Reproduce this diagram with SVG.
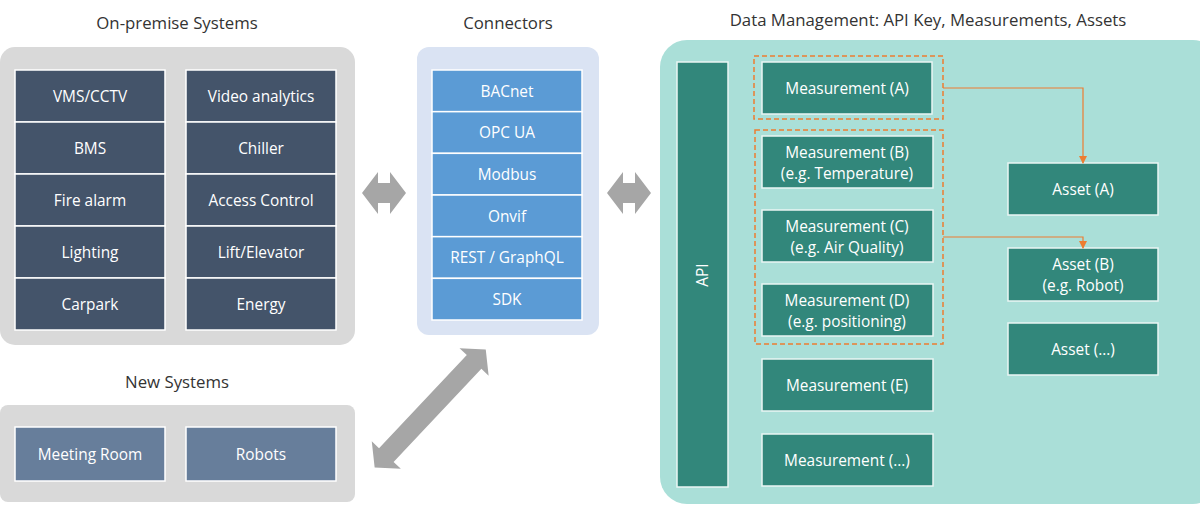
<svg xmlns="http://www.w3.org/2000/svg" width="1200" height="505" viewBox="0 0 1200 505">
<defs>
<style>
.title{font-family:"Open Sans","Liberation Sans",sans-serif;font-size:16.8px;fill:#333333;text-anchor:middle}
.t{font-family:"Open Sans","Liberation Sans",sans-serif;font-size:15.4px;fill:#ffffff;text-anchor:middle}
.dark{fill:#44546A;stroke:#ffffff;stroke-width:1.5}
.newc{fill:#677E9B;stroke:#ffffff;stroke-width:1.5}
.conn{fill:#5B9BD5;stroke:#ffffff;stroke-width:1.5}
.teal{fill:#32877B;stroke:#EAF6F4;stroke-width:1.5}
.dash{fill:none;stroke:#ED7D31;stroke-width:1.5;stroke-dasharray:5 3}
.olink{fill:none;stroke:#ED7D31;stroke-width:1.2}
.bi{fill:#A6A6A6}
</style>
<marker id="ah" markerWidth="8" markerHeight="8" refX="7" refY="4" orient="auto" markerUnits="userSpaceOnUse">
<path d="M0,0 L8,4 L0,8 Z" fill="#ED7D31"/>
</marker>
</defs>
<rect width="1200" height="505" fill="#ffffff"/>

<g id="onpremise">
<text class="title" x="177" y="29">On-premise Systems</text>
<rect x="0" y="47" width="355" height="298" rx="15" fill="#D9D9D9"/>
<g id="vms"><rect class="dark" x="15" y="70" width="150" height="52"/><text class="t" x="90" y="101.5">VMS/CCTV</text></g>
<g id="bms"><rect class="dark" x="15" y="122" width="150" height="52"/><text class="t" x="90" y="153.5">BMS</text></g>
<g id="fire"><rect class="dark" x="15" y="174" width="150" height="52"/><text class="t" x="90" y="205.5">Fire alarm</text></g>
<g id="lighting"><rect class="dark" x="15" y="226" width="150" height="52"/><text class="t" x="90" y="257.5">Lighting</text></g>
<g id="carpark"><rect class="dark" x="15" y="278" width="150" height="52"/><text class="t" x="90" y="309.5">Carpark</text></g>
<g id="video"><rect class="dark" x="186" y="70" width="150" height="52"/><text class="t" x="261" y="101.5">Video analytics</text></g>
<g id="chiller"><rect class="dark" x="186" y="122" width="150" height="52"/><text class="t" x="261" y="153.5">Chiller</text></g>
<g id="access"><rect class="dark" x="186" y="174" width="150" height="52"/><text class="t" x="261" y="205.5">Access Control</text></g>
<g id="lift"><rect class="dark" x="186" y="226" width="150" height="52"/><text class="t" x="261" y="257.5">Lift/Elevator</text></g>
<g id="energy"><rect class="dark" x="186" y="278" width="150" height="52"/><text class="t" x="261" y="309.5">Energy</text></g>
</g>

<g id="newsystems">
<text class="title" x="177" y="388">New Systems</text>
<rect x="0" y="405" width="355" height="97" rx="8" fill="#D9D9D9"/>
<g id="meeting"><rect class="newc" x="15" y="427" width="150" height="54"/><text class="t" x="90" y="459.5">Meeting Room</text></g>
<g id="robots"><rect class="newc" x="186" y="427" width="150" height="54"/><text class="t" x="261" y="459.5">Robots</text></g>
</g>

<g id="connectors">
<text class="title" x="508" y="29">Connectors</text>
<rect x="417" y="47" width="182" height="288" rx="12" fill="#DAE3F3"/>
<g id="bacnet"><rect class="conn" x="432" y="70" width="150" height="41.67"/><text class="t" x="507" y="96.5">BACnet</text></g>
<g id="opcua"><rect class="conn" x="432" y="111.67" width="150" height="41.67"/><text class="t" x="507" y="138">OPC UA</text></g>
<g id="modbus"><rect class="conn" x="432" y="153.33" width="150" height="41.67"/><text class="t" x="507" y="179.5">Modbus</text></g>
<g id="onvif"><rect class="conn" x="432" y="195" width="150" height="41.67"/><text class="t" x="507" y="221.5">Onvif</text></g>
<g id="rest"><rect class="conn" x="432" y="236.67" width="150" height="41.67"/><text class="t" x="507" y="263">REST / GraphQL</text></g>
<g id="sdk"><rect class="conn" x="432" y="278.33" width="150" height="41.67"/><text class="t" x="507" y="304.5">SDK</text></g>
</g>

<g id="datamgmt">
<text class="title" x="928" y="26">Data Management: API Key, Measurements, Assets</text>
<rect x="660" y="40" width="560" height="464" rx="27" fill="#AADFD8"/>
<g id="api"><rect class="teal" x="677" y="62" width="51" height="425"/><text class="t" transform="translate(707.5,275) rotate(-90)" x="0" y="0">API</text></g>
<rect class="dash" x="754" y="56" width="189" height="63"/>
<rect class="dash" x="755" y="130" width="188" height="214"/>
<g id="measA"><rect class="teal" x="762" y="62" width="170" height="52"/><text class="t" x="847" y="93.5">Measurement (A)</text></g>
<g id="measB"><rect class="teal" x="762" y="136" width="171" height="52"/><text class="t" x="847" y="157.5">Measurement (B)</text><text class="t" x="847" y="178.5">(e.g. Temperature)</text></g>
<g id="measC"><rect class="teal" x="762" y="210" width="171" height="52"/><text class="t" x="847" y="231.5">Measurement (C)</text><text class="t" x="847" y="252.5">(e.g. Air Quality)</text></g>
<g id="measD"><rect class="teal" x="762" y="284" width="171" height="52"/><text class="t" x="847" y="305.5">Measurement (D)</text><text class="t" x="847" y="326.5">(e.g. positioning)</text></g>
<g id="measE"><rect class="teal" x="762" y="359" width="171" height="52"/><text class="t" x="847" y="390.5">Measurement (E)</text></g>
<g id="measX"><rect class="teal" x="762" y="434" width="171" height="52"/><text class="t" x="847" y="465.5">Measurement (...)</text></g>
<g id="assetA"><rect class="teal" x="1008" y="163" width="150" height="52"/><text class="t" x="1083" y="194.5">Asset (A)</text></g>
<g id="assetB"><rect class="teal" x="1008" y="248" width="150" height="53"/><text class="t" x="1083" y="269.5">Asset (B)</text><text class="t" x="1083" y="290.5">(e.g. Robot)</text></g>
<g id="assetX"><rect class="teal" x="1008" y="323" width="150" height="52"/><text class="t" x="1083" y="354.5">Asset (...)</text></g>
</g>

<g id="links">
<polygon class="bi" points="362,193 378,172 378,183 390,183 390,172 406,193 390,214 390,203 378,203 378,214"/>
<polygon class="bi" points="607,193 623,172 623,183 635,183 635,172 651,193 635,214 635,203 623,203 623,214"/>
<polygon class="bi" transform="translate(430.2,408.5) rotate(-46.7)" points="-81,0 -64,-20 -64,-10 64,-10 64,-20 81,0 64,20 64,10 -64,10 -64,20"/>
<path class="olink" d="M943,88 H1083 V163" marker-end="url(#ah)"/>
<path class="olink" d="M943,237 H1083 V248" marker-end="url(#ah)"/>
</g>
</svg>
